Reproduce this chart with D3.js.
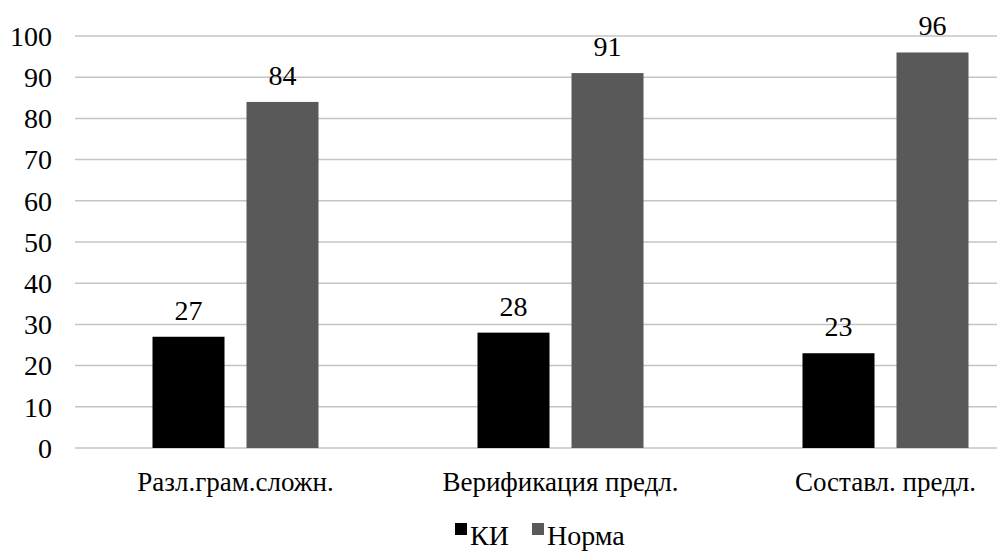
<!DOCTYPE html>
<html>
<head>
<meta charset="utf-8">
<script src="https://cdn.jsdelivr.net/npm/d3@7"></script>
<style>
  html, body { margin: 0; padding: 0; background: #fff; }
  svg { display: block; }
</style>
</head>
<body>
<svg id="chart" width="997" height="552"></svg>
<script>
// Task scores by group
const categories = ["Разл.грам.сложн.", "Верификация предл.", "Составл. предл."];
const seriesNames = ["КИ", "Норма"];
const valuesKI = [27, 28, 23];
const valuesNorm = [84, 91, 96];
const yTicks = [0, 10, 20, 30, 40, 50, 60, 70, 80, 90, 100];

const colors = { "КИ": "#000000", "Норма": "#595959" };
const FONT = "Times New Roman, Liberation Serif, Tinos, serif";

const rows = categories.map((c, i) => ({ category: c, values: [valuesKI[i], valuesNorm[i]] }));

const svg = d3.select("#chart");
const W = 997, H = 552;

// plot area (the band range runs past the right edge so the last group sits as drawn)
const plot = { left: 73, right: 1048, top: 36, bottom: 448 };

const x0 = d3.scaleBand().domain(categories).range([plot.left, plot.right]).paddingInner(0).paddingOuter(0);
const groupPad = 79.5;
const x1 = d3.scaleBand().domain(seriesNames).range([groupPad, x0.bandwidth() - groupPad]).paddingInner(0.234).paddingOuter(0);
const y = d3.scaleLinear().domain([0, 100]).range([plot.bottom, plot.top]);

// horizontal gridlines
svg.append("g").selectAll("line").data(yTicks).join("line")
  .attr("x1", 75).attr("x2", W).attr("y1", d => y(d)).attr("y2", d => y(d))
  .attr("stroke", "#c4c4c4").attr("stroke-width", 1.5);

// y axis labels
const yg = svg.append("g").attr("transform", `translate(52,0)`)
  .call(d3.axisLeft(y).tickValues(yTicks).tickSize(0).tickPadding(0))
  .attr("font-family", FONT).attr("font-size", 28);
yg.select(".domain").remove();
yg.selectAll("text").attr("fill", "#000").attr("dy", "0.33em");

// grouped bars
const groups = svg.append("g").attr("font-family", FONT).attr("font-size", 28)
  .selectAll("g").data(rows).join("g")
  .attr("transform", d => `translate(${x0(d.category)},0)`);

groups.selectAll("rect")
  .data(d => d.values.map((v, i) => ({ key: seriesNames[i], value: v })))
  .join("rect")
  .attr("x", d => x1(d.key)).attr("width", x1.bandwidth())
  .attr("y", d => y(d.value)).attr("height", d => y(0) - y(d.value))
  .attr("fill", d => colors[d.key]);

// value labels above bars
groups.selectAll("text.val")
  .data(d => d.values.map((v, i) => ({ key: seriesNames[i], value: v })))
  .join("text").attr("class", "val")
  .attr("x", d => x1(d.key) + x1.bandwidth() / 2)
  .attr("y", d => y(d.value) - 17)
  .attr("text-anchor", "middle").attr("fill", "#000")
  .text(d => d.value);

// category labels
const xg = svg.append("g").attr("transform", `translate(0,${plot.bottom + 43})`)
  .call(d3.axisBottom(x0).tickSize(0).tickPadding(0))
  .attr("font-family", FONT).attr("font-size", 27);
xg.select(".domain").remove();
xg.selectAll("text").attr("fill", "#000").attr("y", 0).attr("dy", 0);

// legend
const legend = svg.append("g").attr("transform", "translate(455,545)")
  .attr("font-family", FONT).attr("font-size", 28);
const legendItems = [{ name: seriesNames[0], dx: 0 }, { name: seriesNames[1], dx: 77 }];
const li = legend.selectAll("g").data(legendItems).join("g").attr("transform", d => `translate(${d.dx},0)`);
li.append("rect").attr("x", 0).attr("y", -22).attr("width", 12).attr("height", 12).attr("fill", d => colors[d.name]);
li.append("text").attr("x", 15).attr("y", 0).attr("fill", "#000").text(d => d.name);
</script>
</body>
</html>
